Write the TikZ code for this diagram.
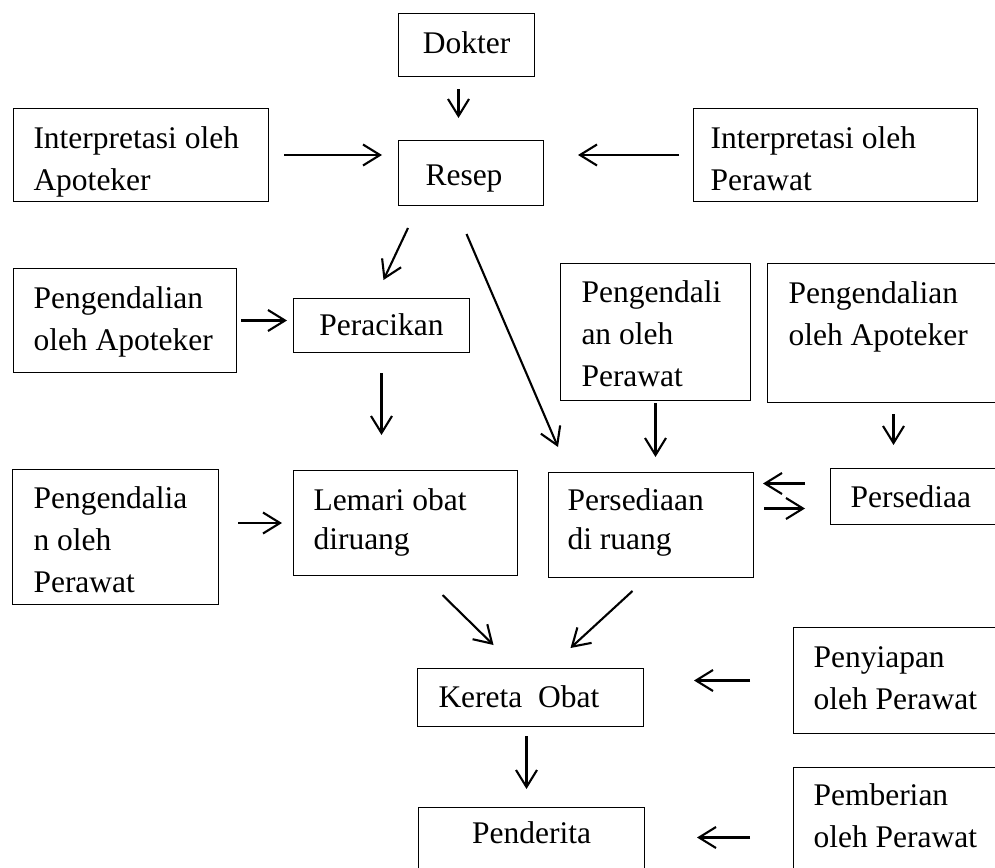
\documentclass[tikz,border=0pt]{standalone}
\usepackage{fontspec}
\setmainfont{Liberation Serif}
\usetikzlibrary{arrows.meta,calc}
\begin{document}
\fontsize{31.5pt}{42pt}\selectfont
\begin{tikzpicture}[x=1pt,y=-1pt,
  kotak/.style={draw,line width=1pt,anchor=north west,inner ysep=0pt,align=flush left},
  panah/.style={-{Straight Barb[length=17pt,width=21pt]},line width=2.1pt}]
  \useasboundingbox (0,0) rectangle (995,867);
  \clip (0,0) rectangle (995,867);

  \node [kotak,inner xsep=0pt,text width=136pt,align=flush center,text height=40pt,text depth=23pt] (DK) at (398,13) {Dokter};
  \node [kotak,inner xsep=27pt,text width=91pt,text height=45pt,text depth=20pt] (RS) at (398,140) {Resep};
  \node [kotak,inner xsep=20pt,text width=215pt,text height=40pt,text depth=53pt] (IA) at (13,108) {Interpretasi oleh\\Apoteker};
  \node [kotak,inner xsep=17pt,text width=250pt,text height=40pt,text depth=53pt] (IP) at (693,108) {Interpretasi oleh\\Perawat};

  \node [kotak,inner xsep=20pt,text width=183pt,text height=40pt,text depth=64pt] (KA) at (13,268) {Pengendalian\\oleh Apoteker};
  \node [kotak,inner xsep=0pt,text width=176pt,align=flush center,text height=37pt,text depth=17pt] (RC) at (293,298) {Peracikan};
  \node [kotak,inner xsep=21pt,text width=148pt,text height=39pt,text depth=98pt] (KP) at (560,263) {Pengendali\\an oleh\\Perawat};
  \node [kotak,inner xsep=21pt,text width=210pt,text height=40pt,text depth=99pt] (KA2) at (767,263) {Pengendalian\\oleh Apoteker};

  \node [kotak,inner xsep=21pt,text width=164pt,text height=39pt,text depth=96pt] (KP2) at (12,469) {Pengendalia\\n oleh\\Perawat};
  \node [kotak,inner xsep=20pt,text width=184pt,text height=40pt,text depth=65pt] (LM) at (293,470) {Lemari obat\\[-3pt]diruang};
  \node [kotak,inner xsep=19pt,text width=167pt,text height=38pt,text depth=67pt] (PR) at (548,472) {Persediaan\\[-3pt]di ruang};
  \node [kotak,inner xsep=20pt,text width=160pt,text height=39pt,text depth=17pt] (PS) at (830,468) {Persediaa};

  \node [kotak,inner xsep=21pt,text width=184pt,text height=39pt,text depth=19pt] (KO) at (417,668) {Kereta~~Obat};
  \node [kotak,inner xsep=20pt,text width=200pt,text height=40pt,text depth=66pt] (SP) at (793,627) {Penyiapan\\oleh Perawat};
  \node [kotak,inner xsep=0pt,text width=226pt,align=flush center,text height=36pt,text depth=50pt] (PD) at (418,807) {Penderita};
  \node [kotak,inner xsep=20pt,text width=200pt,text height=38pt,text depth=100pt] (PB) at (793,767) {Pemberian\\oleh Perawat};

  \draw [panah] ($(DK.south)+(-8,12)$) -- ($(DK.south |- RS.north)+(-8,-22)$);
  \draw [panah,shorten <=15pt,shorten >=16pt] (IA.east) -- (IA.east -| RS.west);
  \draw [panah,shorten <=14pt,shorten >=34pt] (IP.west) -- (IP.west -| RS.east);
  \draw [panah] ($(RS.south west)+(10,22)$) -- ($(RC.north)+(2,-18)$);
  \draw [panah] ($(RS.south)+(-4.5,28)$) -- ($(PR.north west)+(10,-25)$);
  \draw [panah,shorten <=4pt,shorten >=6pt] (KA.east) -- (KA.east -| RC.west);
  \draw [panah,shorten <=20pt,shorten >=35pt] (RC.south) -- (RC.south |- LM.north);
  \draw [panah,shorten <=2pt,shorten >=15pt] (KP.south) -- (KP.south |- PR.north);
  \draw [panah,shorten <=11pt,shorten >=23pt] (KA2.south) -- (KA2.south |- PS.north);
  \draw [panah] ($(PS.west)+(-25,-13)$) -- ($(PS.west -| PR.east)+(9,-13)$);
  \draw [panah] ($(PS.west -| PR.east)+(10,12)$) -- ($(PS.west)+(-25,12)$);
  \draw [panah,shorten <=19pt,shorten >=11pt] (LM.west -| KP2.east) -- (LM.west);
  \draw [panah] ($(LM.south)+(37,19)$) -- ($(KO.north)+(-37,-23)$);
  \draw [panah] ($(PR.south)+(-18.5,13)$) -- ($(KO.north)+(40,-20)$);
  \draw [panah,shorten <=43pt,shorten >=50pt] (SP.west) -- (SP.west -| KO.east);
  \draw [panah] ($(KO.south)+(-4,9)$) -- ($(KO.south |- PD.north)+(-4,-18)$);
  \draw [panah] ($(PD.base -| PB.west)+(-43,-6)$) -- ($(PD.base east)+(52,-6)$);
\end{tikzpicture}
\end{document}
